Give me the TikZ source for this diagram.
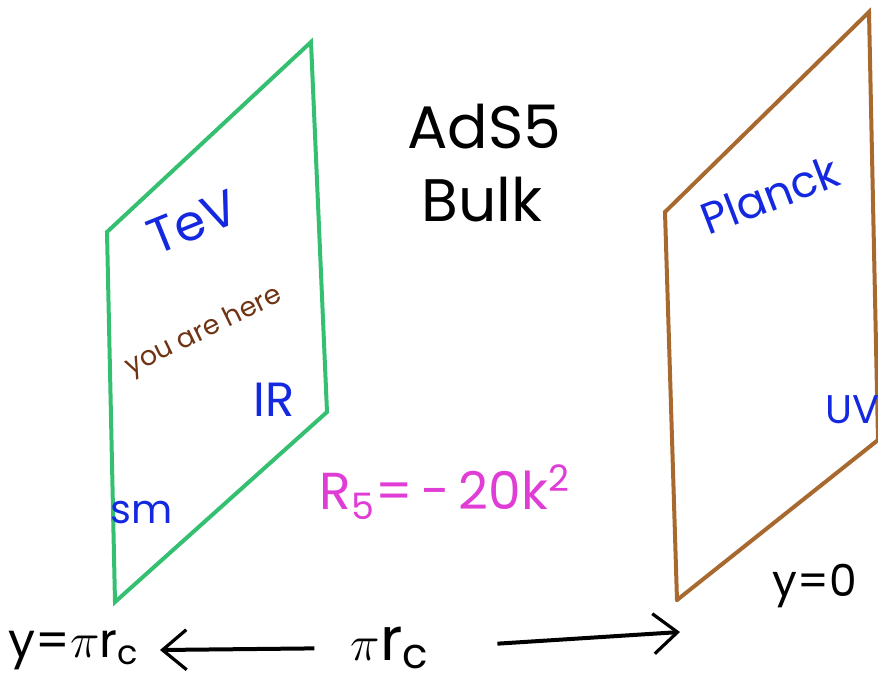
\documentclass[tikz,border=0pt]{standalone}
\usepackage{fontspec}
\setmainfont{Poppins}
\usetikzlibrary{arrows.meta, positioning}
\definecolor{rsGreen}{HTML}{34C070}
\definecolor{rsBrown}{HTML}{A8692E}
\definecolor{rsBlue}{HTML}{1428E0}
\definecolor{rsMagenta}{HTML}{E03CD6}
\definecolor{rsDark}{HTML}{6E3414}
\tikzset{
  rs-tev/.style={draw=rsGreen, line width=2pt, line cap=round},
  rs-planck/.style={draw=rsBrown, line width=2pt, line cap=round},
  rs-energy/.style={text=rsBlue, inner sep=0pt},
  rs-note/.style={text=black, inner sep=0pt},
  rs-arrow/.style={-{Straight Barb[length=12pt, width=20pt, line width=1.6pt]}, line width=2pt, draw=black},
}
\newcommand{\rsfont}[1]{\fontsize{#1}{#1}\selectfont}
\begin{document}
\begin{tikzpicture}[x=0.5pt, y=-0.5pt]
  \useasboundingbox (0,0) rectangle (878,698);
  % TeV brane
  \coordinate (tevTL) at (107,232);
  \coordinate (tevTR) at (311,42);
  \coordinate (tevBR) at (327,412);
  \coordinate (tevBL) at (115,602);
  \draw[rs-tev] (tevTL) -- (tevTR) -- (tevBR) -- (tevBL) -- cycle;
  % Planck brane
  \coordinate (plTL) at (665,212);
  \coordinate (plTR) at (869,12);
  \coordinate (plBR) at (878,440);
  \coordinate (plBL) at (677,600);
  \draw[rs-planck] (plBL) -- (plTL) -- (plTR) -- (plBR);
  \draw[rs-planck] (plBR) -- (plBL);

  \node[rs-note, font=\rsfont{30}] (ads) at (484,127) {AdS5};
  \node[rs-note, font=\rsfont{30}] (bulk) at (482,200) {Bulk};

  \node[rs-energy, font=\rsfont{22}, rotate=21] (planck) at (770,195) {Planck};
  \node[rs-energy, font=\rsfont{25}, rotate=22] (tev) at (193,222) {TeV};
  \node[text=rsDark, inner sep=0pt, font=\rsfont{13.5}, rotate=26] (here) at (204,332) {you are here};
  \node[rs-energy, font=\rsfont{24}] (ir) at (274,400) {IR};
  \node[rs-energy, font=\rsfont{20}] (sm) at (142,513) {sm};
  \node[rs-energy, font=\rsfont{20}] (uv) at (853,410) {UV};

  \node[text=rsMagenta, inner sep=0pt, font=\rsfont{26}] (curv) at (445,492) {R$_{\mathrm{5}}$=\,-\,20k$^{\mathrm{2}}$};

  \node[rs-note, font=\rsfont{22}] (yzero) at (815,586) {y=0};
  \node[rs-note, font=\rsfont{24}] (ytev) at (74,650) {y=$\pi$r$_{\mathrm{c}}$};
  \node[rs-note, font=\rsfont{30}] (dist) at (390,648) {$\pi$r$_{\mathrm{c}}$};
  \coordinate (arrR) at (680,632);

  \draw[rs-arrow, shorten <=18pt] (dist.west) -- (ytev.east -| 160,0);
  \draw[rs-arrow, shorten <=34pt] (dist.east) -- (arrR);
\end{tikzpicture}
\end{document}
